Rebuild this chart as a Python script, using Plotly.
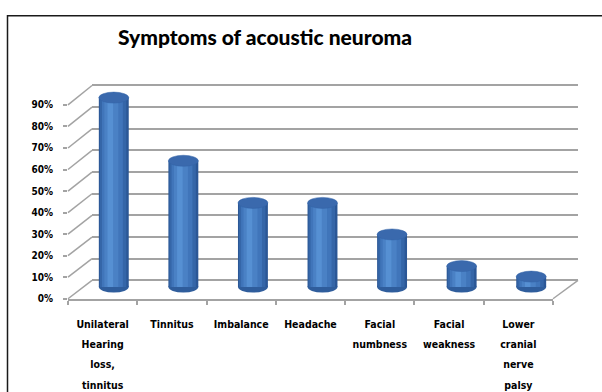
import plotly.graph_objects as go

# data
symptoms = [
    "Unilateral<br>Hearing<br>loss,<br>tinnitus",
    "Tinnitus",
    "Imbalance",
    "Headache",
    "Facial<br>numbness",
    "Facial<br>weakness",
    "Lower<br>cranial<br>nerve<br>palsy",
]
share = [0.90, 0.60, 0.40, 0.40, 0.25, 0.10, 0.05]
pct_ticks = [0.0, 0.1, 0.2, 0.3, 0.4, 0.5, 0.6, 0.7, 0.8, 0.9]
pct_labels = ["0%", "10%", "20%", "30%", "40%", "50%", "60%", "70%", "80%", "90%"]

W, H = 602, 392
TOP = 0.9
PAD = 0.02  # keeps the 0% and 90% gridlines off the axis ends
BAR_PAD = 0.05  # room for the cylinder ends so they are not clipped
BAR_W = 0.43
CAP = 5.5  # half height of the cylinder ends, px
GRID = "#a3a3a3"
LABEL_FONT = "Liberation Sans Narrow, DejaVu Sans Condensed, Liberation Sans"


def px_x(p):
    return p / W


def px_y(p):
    return 1 - p / H


def y_domain(plane, pad):
    # domain for range [-pad, TOP + pad] so that 0 and TOP land on the plane pixels
    k = (plane["y0"] - plane["y1"]) / TOP * pad
    return [px_y(plane["y0"] + k), px_y(plane["y1"] - k)]


# pixel frame of the three planes of the fake 3d box
front = dict(x0=68, x1=553, y0=302, y1=102)
back = dict(x0=92, x1=578, y0=283, y1=82)
mid = dict(x0=79, x1=566, y0=290, y1=94.5)

idx = list(range(len(symptoms)))

fig = go.Figure()

# empty traces so the back wall and front edge subplots get drawn
for xa, ya in [("x", "y"), ("x2", "y2")]:
    fig.add_trace(
        go.Scatter(
            x=[0], y=[0], xaxis=xa, yaxis=ya, mode="markers",
            marker=dict(opacity=0), showlegend=False, hoverinfo="skip",
        )
    )

# cylinder body, shaded with stacked overlay bars
shades = [
    (0.43, -0.215, "#2b5796"),
    (0.38, -0.2, "#3566a8"),
    (0.30, -0.17, "#4075ba"),
    (0.20, -0.135, "#4a81c5"),
    (0.08, -0.09, "#5690d3"),
]
for w, off, col in shades:
    fig.add_trace(
        go.Bar(
            x=idx,
            y=share,
            width=w,
            offset=off,
            marker=dict(color=col, line=dict(width=0)),
            xaxis="x3",
            yaxis="y3",
            showlegend=False,
            hoverinfo="skip",
        )
    )

# rounded bottoms and tops of the cylinders
for i, v in zip(idx, share):
    fig.add_shape(
        type="circle", xref="x3", yref="y3",
        x0=i - BAR_W / 2, x1=i + BAR_W / 2,
        ysizemode="pixel", yanchor=0, y0=-CAP, y1=CAP,
        fillcolor="#2f5d9c", line=dict(width=0), layer="between",
    )
    fig.add_shape(
        type="circle", xref="x3", yref="y3",
        x0=i - BAR_W / 2, x1=i + BAR_W / 2,
        ysizemode="pixel", yanchor=v, y0=-CAP, y1=CAP,
        fillcolor="#3a69ad", line=dict(color="#3363a6", width=0.5), layer="above",
    )

# diagonal lines from the front labels to the back wall
for t in pct_ticks:
    fy = front["y0"] + (front["y1"] - front["y0"]) * t / TOP
    by = back["y0"] + (back["y1"] - back["y0"]) * t / TOP
    fig.add_shape(
        type="line", xref="paper", yref="paper",
        x0=px_x(front["x0"]), y0=px_y(fy), x1=px_x(back["x0"]), y1=px_y(by),
        line=dict(color=GRID, width=1.5), layer="below",
    )

# right edge of the floor
fig.add_shape(
    type="line", xref="paper", yref="paper",
    x0=px_x(front["x1"]), y0=px_y(front["y0"]),
    x1=px_x(back["x1"]), y1=px_y(back["y0"]),
    line=dict(color=GRID, width=1.5), layer="below",
)

# chart border
fig.add_shape(
    type="rect", xref="paper", yref="paper",
    x0=px_x(7.5), y0=-0.05, x1=1.05, y1=px_y(10),
    line=dict(color="#1a1a1a", width=1.5), layer="below",
)

axis_off = dict(showgrid=False, zeroline=False, showticklabels=False, ticks="")

fig.update_layout(
    width=W,
    height=H,
    margin=dict(l=0, r=0, t=0, b=0),
    paper_bgcolor="white",
    plot_bgcolor="rgba(0,0,0,0)",
    barmode="overlay",
    showlegend=False,
    title=dict(
        text="Symptoms of acoustic neuroma",
        x=px_x(265), y=px_y(38), xanchor="center", yanchor="middle",
        font=dict(family="Lato", size=21, color="black", weight=900),
    ),
    # back wall with the gridlines
    xaxis=dict(domain=[px_x(back["x0"]), px_x(back["x1"])], range=[-0.5, 6.5], **axis_off),
    yaxis=dict(
        domain=y_domain(back, PAD), range=[-PAD, TOP + PAD],
        showgrid=True, gridcolor=GRID, gridwidth=1.5,
        tickvals=pct_ticks, zeroline=False, showticklabels=False, ticks="",
    ),
    # front edge carrying the labels
    xaxis2=dict(
        domain=[px_x(front["x0"]), px_x(front["x1"])], range=[-0.5, 6.5],
        anchor="y2", showgrid=False, zeroline=False,
        showline=True, linecolor=GRID, linewidth=1.5,
        tickvals=idx,
        ticktext=['<span style="font-size:10.5px">%s</span>' % s for s in symptoms],
        ticks="", ticklabelstandoff=9,
        tickfont=dict(family=LABEL_FONT, size=15.5, color="black", weight="bold"),
        minor=dict(tick0=-0.5, dtick=1, ticks="outside", ticklen=4, tickcolor=GRID, tickwidth=1.5),
    ),
    yaxis2=dict(
        domain=[px_y(front["y0"]), px_y(front["y1"])], range=[0, TOP],
        anchor="x2", showgrid=False, zeroline=False,
        tickvals=pct_ticks, ticktext=pct_labels,
        ticks="outside", ticklen=4, tickcolor=GRID, tickwidth=1.5,
        ticklabelstandoff=8,
        tickfont=dict(family=LABEL_FONT, size=10, color="black", weight="bold"),
    ),
    # middle plane holding the cylinders
    xaxis3=dict(domain=[px_x(mid["x0"]), px_x(mid["x1"])], range=[-0.5, 6.5], anchor="y3", **axis_off),
    yaxis3=dict(domain=y_domain(mid, BAR_PAD), range=[-BAR_PAD, TOP + BAR_PAD], anchor="x3", **axis_off),
)

# drop the default page margin so the figure sits at the window corner
fig.write_html(
    "out.html",
    config={"displayModeBar": False},
    post_script="document.body.style.margin='0';document.body.style.overflow='hidden';",
)
